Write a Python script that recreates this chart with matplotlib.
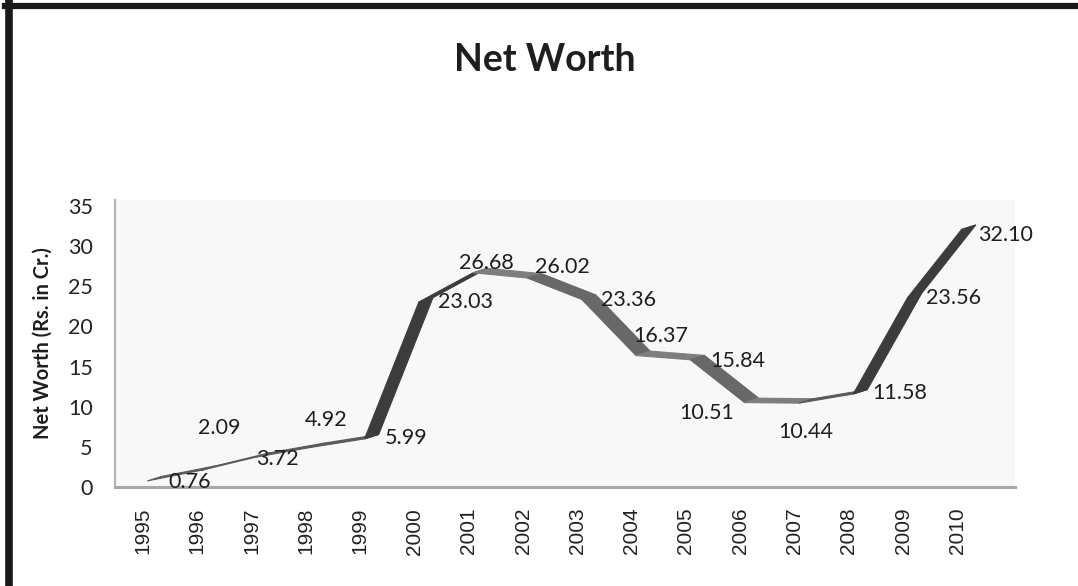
import numpy as np
import matplotlib.pyplot as plt
from matplotlib.patches import Polygon
from matplotlib.lines import Line2D

years = np.arange(1995, 2011)
net_worth = [0.76, 2.09, 3.72, 4.92, 5.99, 23.03, 26.68, 26.02,
             23.36, 16.37, 15.84, 10.51, 10.44, 11.58, 23.56, 32.10]
value_labels = ['0.76', '2.09', '3.72', '4.92', '5.99', '23.03', '26.68', '26.02',
                '23.36', '16.37', '15.84', '10.51', '10.44', '11.58', '23.56', '32.10']

# where each value label sits relative to its point (pixels, y up)
label_offsets = [(42, -1), (18, 42), (21, -2), (16, 27), (42, 1), (47, 0),
                 (13, 10), (35, 11), (47, -1), (25, 20), (47, -1), (-38, -10),
                 (7, -29), (47, 1), (46, 0), (44, -6)]

body = 'Lato'

fig = plt.figure(figsize=(10.78, 5.86), dpi=100)
W, H = 1078, 586
ax = fig.add_axes([115 / W, (H - 487) / H, (1015 - 115) / W, (487 - 200) / H])
ax.set_facecolor('#f8f8f8')
ax.set_xlim(1994.484, 2011.06)
ax.set_ylim(0, 35.74)

for s in ['top', 'right']:
    ax.spines[s].set_visible(False)
ax.spines['left'].set_color('#b4b4b4')
ax.spines['left'].set_linewidth(1.6)
ax.spines['bottom'].set_color('#a8a8a8')
ax.spines['bottom'].set_linewidth(2.2)

# 3-D ribbon: front edge at the value, back edge pushed right and up
front_dx, depth_dx, depth_dy = 0.08, 0.26, 0.55
xf = years + front_dx
for i in range(len(years) - 1):
    x0, x1 = xf[i], xf[i + 1]
    y0, y1 = net_worth[i], net_worth[i + 1]
    diff = y1 - y0
    if diff > 3:
        col = '#3c3c3c'
    elif diff > 0.5:
        col = '#5a5a5a'
    elif diff < -1.5:
        col = '#686868'
    else:
        col = '#7e7e7e'
    poly = Polygon([(x0, y0), (x1, y1), (x1 + depth_dx, y1 + depth_dy),
                    (x0 + depth_dx, y0 + depth_dy)],
                   closed=True, facecolor=col, edgecolor=col, linewidth=0.8, zorder=3)
    ax.add_patch(poly)

for x, v, txt, off in zip(xf, net_worth, value_labels, label_offsets):
    ax.annotate(txt, xy=(x, v), xytext=off, textcoords='offset pixels',
                ha='center', va='center', fontsize=15.5, family=body, color='#1e1e1e',
                zorder=4)

ax.set_xticks(years)
ax.set_xticklabels([str(y) for y in years], rotation=90, family='Liberation Sans',
                   fontsize=15, color='#222222')
ax.set_yticks(range(0, 36, 5))
ax.set_yticklabels([str(t) for t in range(0, 36, 5)], family=body, fontsize=15.5,
                   color='#222222')
ax.tick_params(axis='x', length=0, pad=15)
ax.tick_params(axis='y', length=0, pad=16)

ax.set_ylabel('Net Worth (Rs. in Cr.)', family=body, fontweight='bold', fontsize=14.5,
              color='#1e1e1e', labelpad=11)
fig.text(545 / W, 1 - 60 / H, 'Net Worth', ha='center', va='center', family=body,
         fontweight='bold', fontsize=27, color='#1e1e1e')

# outer frame, left and top edges
fig.add_artist(Line2D([8.5 / W, 8.5 / W], [0, 1 - 3 / H], transform=fig.transFigure,
                      color='#1a1a1a', linewidth=5.5))
fig.add_artist(Line2D([5 / W, 1], [1 - 6 / H, 1 - 6 / H], transform=fig.transFigure,
                      color='#1a1a1a', linewidth=4.5))

fig.savefig('out.png', dpi=100)
